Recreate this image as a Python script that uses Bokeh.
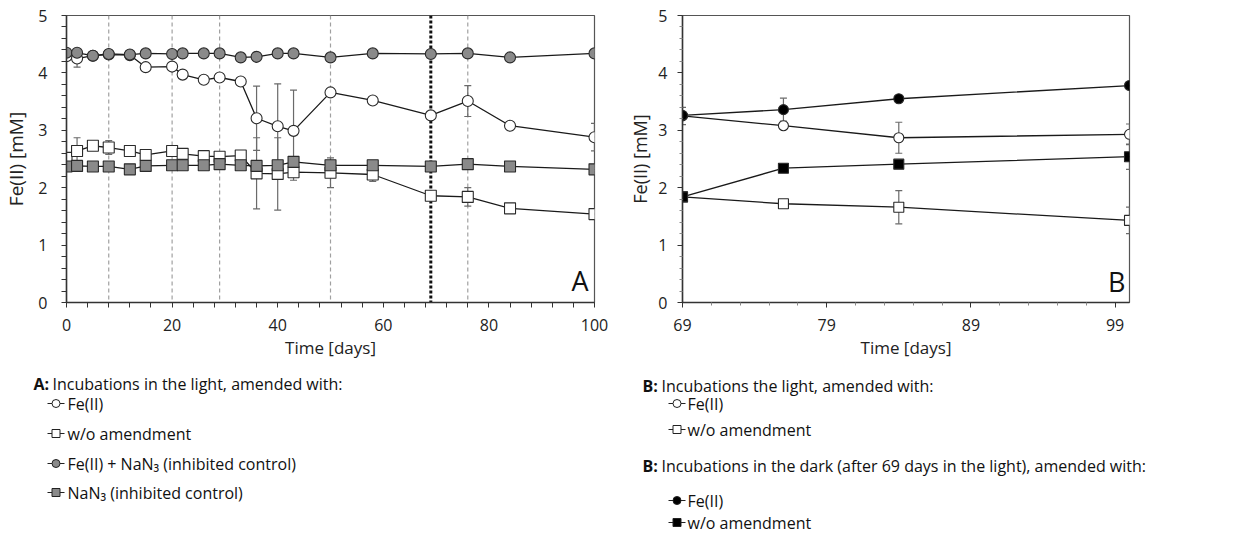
from bokeh.plotting import figure
from bokeh.models import Range1d, FixedTicker, Span, Whisker, ColumnDataSource, TeeHead, Label
from bokeh.layouts import row, column
from bokeh.embed import file_html
from bokeh.resources import INLINE
from bokeh.core.properties import value

FONT = "Open Sans"

# ---------------- data: panel A ----------------
days_a = [0, 2, 5, 8, 12, 15, 20, 22, 26, 29, 33, 36, 40, 43, 50, 58, 69, 76, 84, 100]
fe_light = [4.29, 4.25, 4.30, 4.32, 4.31, 4.10, 4.11, 3.97, 3.88, 3.92, 3.85, 3.21, 3.07, 2.99, 3.66, 3.52, 3.26, 3.51, 3.08, 2.88]
fe_light_err = [0.03, 0.15, 0.02, 0.02, 0.03, 0.03, 0.03, 0.03, 0.03, 0.03, 0.03, 0.56, 0.74, 0.71, 0.03, 0.03, 0.05, 0.27, 0.07, 0.24]
wo_light = [2.52, 2.64, 2.73, 2.70, 2.64, 2.57, 2.64, 2.59, 2.55, 2.54, 2.56, 2.25, 2.24, 2.27, 2.26, 2.23, 1.86, 1.84, 1.64, 1.54]
wo_light_err = [0.03, 0.23, 0.03, 0.12, 0.03, 0.03, 0.03, 0.03, 0.03, 0.03, 0.03, 0.62, 0.63, 0.14, 0.26, 0.12, 0.05, 0.16, 0.07, 0.05]
fe_nan3 = [4.35, 4.35, 4.30, 4.33, 4.32, 4.34, 4.33, 4.34, 4.34, 4.34, 4.27, 4.28, 4.34, 4.34, 4.27, 4.34, 4.33, 4.34, 4.27, 4.34]
nan3 = [2.37, 2.38, 2.37, 2.37, 2.32, 2.38, 2.39, 2.39, 2.39, 2.41, 2.39, 2.38, 2.39, 2.45, 2.39, 2.39, 2.37, 2.41, 2.37, 2.32]
nan3_err = [0.02, 0.02, 0.02, 0.02, 0.02, 0.02, 0.02, 0.02, 0.02, 0.02, 0.02, 0.02, 0.02, 0.02, 0.08, 0.02, 0.02, 0.02, 0.02, 0.02]
event_days = [8, 20, 29, 50, 76]
dark_start_day = 69
xticks_a = [0, 20, 40, 60, 80, 100]
yticks = [0, 1, 2, 3, 4, 5]

# ---------------- data: panel B ----------------
days_b = [69, 76, 84, 100]
fe_light_b = [3.25, 3.08, 2.87, 2.93]
fe_light_b_err = [0.15, 0.05, 0.27, 0.18]
wo_light_b = [1.84, 1.72, 1.66, 1.43]
wo_light_b_err = [0.03, 0.03, 0.29, 0.23]
fe_dark_b = [3.26, 3.36, 3.55, 3.78]
fe_dark_b_err = [0.03, 0.20, 0.05, 0.05]
wo_dark_b = [1.84, 2.34, 2.41, 2.54]
wo_dark_b_err = [0.03, 0.03, 0.03, 0.22]
xticks_b = [69, 79, 89, 99]

Y_MIN, Y_MAX = 0, 5
GRAY = "#8a8a8a"
EDGE = "#2a2a2a"
ERRC = "#6a6a6a"


def minor(ticks, step, lo, hi):
    out = []
    v = lo
    while v <= hi + 1e-9:
        if all(abs(v - t) > 1e-6 for t in ticks):
            out.append(round(v, 6))
        v += step
    return out


def style(p, xt, xminor, ytick_standoff, ylab_standoff, ylab_size, minor_color, minor_len):
    p.xgrid.visible = False
    p.ygrid.visible = False
    p.outline_line_color = "#555555"
    p.outline_line_width = 1.2
    p.background_fill_color = "white"
    p.border_fill_color = "white"
    for ax in (p.xaxis[0], p.yaxis[0]):
        ax.axis_line_color = "#333333"
        ax.axis_line_width = 1.5
        ax.major_tick_line_color = "#333333"
        ax.minor_tick_line_color = minor_color
        ax.major_tick_in = 0
        ax.major_tick_out = 5
        ax.minor_tick_in = 0
        ax.minor_tick_out = minor_len
        ax.major_label_text_font = FONT
        ax.major_label_text_font_size = "16px"
        ax.major_label_text_color = "#222222"
        ax.axis_label_text_font = FONT
        ax.axis_label_text_font_style = "normal"
        ax.axis_label_text_color = "#222222"
    p.xaxis[0].axis_label_text_font_size = "17px"
    p.yaxis[0].axis_label_text_font_size = ylab_size
    p.xaxis[0].ticker = FixedTicker(ticks=xt, minor_ticks=xminor)
    p.yaxis[0].ticker = FixedTicker(ticks=yticks, minor_ticks=minor(yticks, 0.2, Y_MIN, Y_MAX))
    p.xaxis[0].major_label_standoff = 11
    p.xaxis[0].axis_label_standoff = 2
    p.yaxis[0].major_label_standoff = ytick_standoff
    p.yaxis[0].axis_label_standoff = ylab_standoff
    p.xaxis[0].axis_label = "Time [days]"
    p.yaxis[0].axis_label = "Fe(II) [mM]"


def whisk(p, x, y, e, size=7):
    src = ColumnDataSource(dict(x=x, lo=[a - b for a, b in zip(y, e)], hi=[a + b for a, b in zip(y, e)]))
    w = Whisker(source=src, base="x", upper="hi", lower="lo", line_color=ERRC, line_width=1.2,
                upper_head=TeeHead(size=size, line_color=ERRC, line_width=1.2),
                lower_head=TeeHead(size=size, line_color=ERRC, line_width=1.2), level="underlay")
    p.add_layout(w)


def series(p, x, y, marker, fill, size):
    p.line(x, y, line_color="#1a1a1a", line_width=1.3)
    p.scatter(x, y, marker=marker, size=size, fill_color=fill, line_color=EDGE, line_width=1.1)


# ---------------- panel A ----------------
XA_MIN, XA_MAX = 0, 100
pA = figure(width=620, height=362, x_range=Range1d(XA_MIN, XA_MAX), y_range=Range1d(Y_MIN, Y_MAX),
            toolbar_location=None, output_backend="svg",
            min_border_left=65, min_border_right=26, min_border_top=14, min_border_bottom=60)
style(pA, xticks_a, minor(xticks_a, 4, XA_MIN, XA_MAX), 14, 6, "19px", "#333333", 5)
for d in event_days:
    pA.add_layout(Span(location=d, dimension="height", line_color="#a0a0a0", line_width=1.2,
                       line_dash="4 3", level="underlay"))
pA.add_layout(Span(location=dark_start_day, dimension="height", line_color="#111111", line_width=3,
                   line_dash="3 2", level="underlay"))
whisk(pA, days_a, fe_light, fe_light_err)
whisk(pA, days_a, wo_light, wo_light_err)
whisk(pA, days_a, nan3, nan3_err)
series(pA, days_a, fe_light, "circle", "white", 11)
series(pA, days_a, wo_light, "square", "white", 11)
series(pA, days_a, fe_nan3, "circle", GRAY, 11)
series(pA, days_a, nan3, "square", GRAY, 11)
pA.add_layout(Label(x=XA_MAX, y=Y_MIN, text="A", x_offset=-6, y_offset=4, text_align="right",
                    text_baseline="bottom", text_font=FONT, text_font_size="27px",
                    text_color="#111111"))

# ---------------- panel B ----------------
XB_MIN, XB_MAX = 69, 100
pB = figure(width=615, height=362, x_range=Range1d(XB_MIN, XB_MAX), y_range=Range1d(Y_MIN, Y_MAX),
            toolbar_location=None, output_backend="svg",
            min_border_left=62, min_border_right=106, min_border_top=15, min_border_bottom=59)
style(pB, xticks_b, minor(xticks_b, 2, XB_MIN, XB_MAX), 10, 3, "18px", "#888888", 3)
whisk(pB, days_b, fe_light_b, fe_light_b_err)
whisk(pB, days_b, wo_light_b, wo_light_b_err)
whisk(pB, days_b, fe_dark_b, fe_dark_b_err)
whisk(pB, days_b, wo_dark_b, wo_dark_b_err)
series(pB, days_b, fe_light_b, "circle", "white", 10)
series(pB, days_b, wo_light_b, "square", "white", 10)
series(pB, days_b, fe_dark_b, "circle", "black", 10)
series(pB, days_b, wo_dark_b, "square", "black", 10)
pB.add_layout(Label(x=XB_MAX, y=Y_MIN, text="B", x_offset=-4, y_offset=3, text_align="right",
                    text_baseline="bottom", text_font=FONT, text_font_size="27px",
                    text_color="#111111"))


# ---------------- legends ----------------
def legend_fig(w, h):
    f = figure(width=w, height=h, x_range=Range1d(0, w), y_range=Range1d(h, 0),
               x_axis_type=None, y_axis_type=None,
               toolbar_location=None, output_backend="svg", min_border=0,
               min_border_left=0, min_border_right=0, min_border_top=0, min_border_bottom=0)
    f.xgrid.visible = False
    f.ygrid.visible = False
    f.outline_line_color = None
    return f


def header(f, x_bold, x_text, y, bold, txt):
    f.text([x_bold], [y], text=[bold], text_font=value(FONT), text_font_style="bold",
           text_font_size="16px", text_baseline="middle", text_color="#111111")
    f.text([x_text], [y], text=[txt], text_font=value(FONT), text_font_size="16px",
           text_baseline="middle", text_color="#111111")


def item(f, x0, x1, xt, y, marker, fill, txt):
    f.line([x0, x1], [y, y], line_color="#222222", line_width=1.2)
    f.scatter([(x0 + x1) / 2], [y], marker=marker, size=8, fill_color=fill, line_color="#222222",
              line_width=1)
    f.text([xt], [y], text=[txt], text_font=value(FONT), text_font_size="16px",
           text_baseline="middle", text_color="#111111")


lA = legend_fig(620, 171)
header(lA, 33, 52, 21, "A:", "Incubations in the light, amended with:")
item(lA, 47, 64, 67, 41, "circle", "white", "Fe(II)")
item(lA, 47, 64, 67, 71, "square", "white", "w/o amendment")
item(lA, 47, 64, 67, 101, "circle", GRAY, "Fe(II) + NaN\u2083 (inhibited control)")
item(lA, 47, 64, 67, 130, "square", GRAY, "NaN\u2083 (inhibited control)")

lB = legend_fig(615, 171)
header(lB, 22, 41, 23, "B:", "Incubations the light, amended with:")
item(lB, 48, 65, 67, 41, "circle", "white", "Fe(II)")
item(lB, 48, 65, 67, 67, "square", "white", "w/o amendment")
header(lB, 22, 41, 103, "B:", "Incubations in the dark (after 69 days in the light), amended with:")
item(lB, 48, 65, 67, 138, "circle", "black", "Fe(II)")
item(lB, 48, 65, 67, 160, "square", "black", "w/o amendment")

layout = column(row(pA, pB, spacing=0), row(lA, lB, spacing=0), spacing=0)
open("out.html", "w").write(file_html(layout, INLINE))
